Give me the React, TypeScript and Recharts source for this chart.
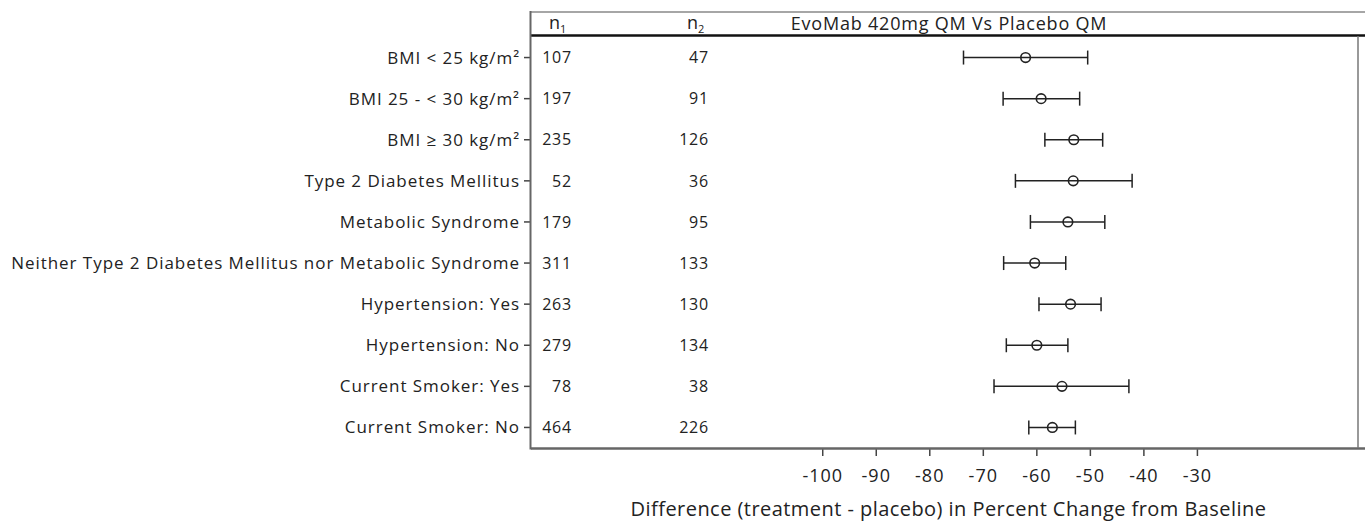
import { ComposedChart, Scatter, ErrorBar, XAxis, YAxis } from "recharts";

const CATEGORIES = [
  "BMI < 25 kg/m²",
  "BMI 25 - < 30 kg/m²",
  "BMI ≥ 30 kg/m²",
  "Type 2 Diabetes Mellitus",
  "Metabolic Syndrome",
  "Neither Type 2 Diabetes Mellitus nor Metabolic Syndrome",
  "Hypertension: Yes",
  "Hypertension: No",
  "Current Smoker: Yes",
  "Current Smoker: No",
];
const N1 = [107, 197, 235, 52, 179, 311, 263, 279, 78, 464];
const N2 = [47, 91, 126, 36, 95, 133, 130, 134, 38, 226];
const ESTIMATE = [-62.1, -59.2, -53.1, -53.2, -54.2, -60.4, -53.7, -60.0, -55.3, -57.1];
const LOWER = [-73.7, -66.3, -58.5, -64.0, -61.2, -66.2, -59.6, -65.7, -68.0, -61.5];
const UPPER = [-50.5, -52.0, -47.7, -42.2, -47.3, -54.6, -48.0, -54.2, -42.8, -52.8];
const X_TICKS = [-100, -90, -80, -70, -60, -50, -40, -30];
const TITLE = "EvoMab 420mg QM Vs Placebo QM";
const X_LABEL = "Difference (treatment - placebo) in Percent Change from Baseline";

const rows = CATEGORIES.map((name, i) => ({
  row: i + 1,
  name,
  n1: N1[i],
  n2: N2[i],
  est: ESTIMATE[i],
  err: [ESTIMATE[i] - LOWER[i], UPPER[i] - ESTIMATE[i]],
}));

const FONT = "'Open Sans', sans-serif";
const INK = "#222";

function RowTick(props: any) {
  const { x, y, payload } = props;
  const r = rows[payload.value - 1];
  if (!r) return null;
  return (
    <g>
      <text x={x} y={y} dy="0.355em" textAnchor="end" fontSize={17} letterSpacing={0.95} fill={INK}>
        {r.name}
      </text>
      <text x={572} y={y} dy="0.355em" textAnchor="end" fontSize={16} letterSpacing={0.8} fill={INK}>
        {r.n1}
      </text>
      <text x={709} y={y} dy="0.355em" textAnchor="end" fontSize={16} letterSpacing={0.8} fill={INK}>
        {r.n2}
      </text>
    </g>
  );
}

function Dot(props: any) {
  const { cx, cy } = props;
  return <circle cx={cx} cy={cy} r={4.8} fill="none" stroke={INK} strokeWidth={1.6} />;
}

export default function App() {
  return (
    <div style={{ position: "absolute", left: 0, top: 0, width: 1365, height: 523, fontFamily: FONT, background: "#fff" }}>
      <ComposedChart
        width={1365}
        height={523}
        data={rows}
        margin={{ top: 37, right: 7, bottom: 0, left: 0 }}
      >
        <XAxis
          type="number"
          dataKey="est"
          domain={[-154.5, 0]}
          ticks={X_TICKS}
          interval={0}
          axisLine={false}
          tickLine={{ stroke: "#444", strokeWidth: 1.5 }}
          tickSize={8}
          tickMargin={13}
          height={75}
          tick={{ fill: INK, fontSize: 18, letterSpacing: 1 }}
          label={{ value: X_LABEL, position: "insideBottom", offset: 7, dx: 4, fill: INK, fontSize: 20, letterSpacing: 0.45 }}
        />
        <YAxis
          type="number"
          dataKey="row"
          domain={[0.5, 10.5]}
          reversed
          ticks={rows.map((r) => r.row)}
          interval={0}
          width={531}
          axisLine={false}
          tickLine={{ stroke: "#444", strokeWidth: 1.5 }}
          tickSize={7}
          tickMargin={4}
          tick={<RowTick />}
        />
        <Scatter dataKey="est" shape={<Dot />} isAnimationActive={false}>
          <ErrorBar dataKey="err" direction="x" width={7} stroke={INK} strokeWidth={1.5} />
        </Scatter>
      </ComposedChart>
      <svg
        width={1365}
        height={523}
        style={{ position: "absolute", left: 0, top: 0, pointerEvents: "none" }}
      >
        <line x1={531} y1={12} x2={1365} y2={12} stroke="#888" strokeWidth={1.5} />
        <line x1={531} y1={35.5} x2={1365} y2={35.5} stroke="#111" strokeWidth={2.5} />
        <line x1={530.5} y1={11} x2={530.5} y2={449.5} stroke="#666" strokeWidth={2} />
        <line x1={531} y1={448.5} x2={1365} y2={448.5} stroke="#666" strokeWidth={2.5} />
        <line x1={1358} y1={36} x2={1358} y2={448} stroke="#777" strokeWidth={1.5} />
        <text x={549} y={29} fontSize={18} fill={INK}>
          n<tspan dy={4} fontSize={11}>1</tspan>
        </text>
        <text x={687} y={29} fontSize={18} fill={INK}>
          n<tspan dy={4} fontSize={11}>2</tspan>
        </text>
        <text x={949} y={30} textAnchor="middle" fontSize={18} letterSpacing={0.8} fill={INK}>
          {TITLE}
        </text>
      </svg>
    </div>
  );
}
